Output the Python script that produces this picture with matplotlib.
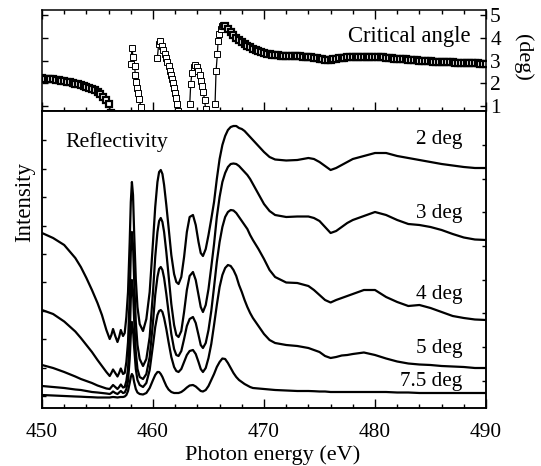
import numpy as np
import matplotlib as mpl
mpl.use('Agg')
import matplotlib.pyplot as plt
from matplotlib.ticker import MultipleLocator, FixedLocator

plt.rcParams['font.family'] = ['Liberation Serif', 'DejaVu Serif']

# Reflectivity spectra (arbitrary units) on a shared energy grid (eV)
energy = [450, 451, 452, 453, 453.5, 454, 454.5, 455, 455.4, 455.8,
          456.1, 456.25, 456.4, 456.6, 456.8, 456.95, 457.1, 457.3, 457.45, 457.6,
          457.75, 457.9, 458.0, 458.1, 458.2, 458.3, 458.45, 458.6, 458.8, 459.1,
          459.4, 459.7, 460.0, 460.2, 460.4, 460.55, 460.7, 460.85, 461.0, 461.2,
          461.4, 461.65, 461.9, 462.1, 462.3, 462.55, 462.8, 463.05, 463.3, 463.6,
          463.85, 464.1, 464.3, 464.5, 464.75, 465.0, 465.25, 465.5, 465.75, 466.0,
          466.25, 466.5, 466.75, 467.0, 467.25, 467.5, 467.75, 468.0, 468.25, 468.5,
          468.75, 469.0, 469.5, 470.0, 470.5, 471, 472, 473, 474, 474.5,
          475, 475.5, 476, 476.5, 477, 477.5, 478, 479, 480, 481,
          482, 483, 484, 485, 486, 487, 488, 489, 490]
refl_2deg = [174, 169, 162, 149, 140, 129, 117, 104, 92, 77,
             68, 72, 78, 71, 65, 70, 77, 71, 74, 90,
             115, 165, 205, 225, 212, 175, 128, 100, 83, 76,
             88, 115, 165, 200, 225, 235, 237, 233, 222, 202,
             180, 152, 133, 125, 123, 130, 150, 175, 190, 192,
             182, 165, 154, 151, 158, 172, 188, 205, 228, 248,
             262, 271, 277, 280, 281, 281, 279, 278, 276, 273,
             270, 267, 261, 255, 250, 247.5, 246.5, 247, 249, 248,
             245, 241, 237, 239, 242, 245, 248, 251, 254, 254,
             251, 249, 247, 245, 243, 241.5, 240, 239, 239]
refl_3deg = [97, 93, 85.5, 75.5, 69, 62, 55, 47, 41, 35,
             31, 34, 37.5, 34, 30.5, 34, 38.5, 33, 34, 45,
             65, 110, 155, 175, 162, 128, 85, 62, 48, 41,
             48, 70, 115, 150, 175, 186, 189, 185, 175, 155,
             132, 103, 82, 72, 70, 76, 95, 117, 131, 135,
             127, 112, 100, 95, 102, 118, 140, 163, 190, 210,
             225, 234, 240, 243, 243.5, 243, 241, 238, 235, 232,
             228, 223, 213, 203, 196, 192, 190, 190.5, 190.5, 189,
             186, 180, 174, 176, 180, 184, 187, 191, 195, 192,
             187, 183, 182, 180, 177, 173, 169.5, 167.5, 167]
refl_4deg = [42, 39, 35, 30.5, 28, 26, 24, 21.5, 20, 18.5,
             18, 20, 22, 20, 18, 20, 22.5, 19.5, 20, 26,
             38, 70, 108, 127, 116, 88, 55, 38, 30, 28,
             33, 50, 85, 112, 130, 138, 140, 137, 129, 113,
             95, 73, 58, 52, 51, 56, 68, 81, 88, 90,
             84, 72, 62, 59, 64, 77, 96, 120, 145, 165,
             180, 190, 195, 197, 196.5, 194, 190, 186, 182, 178,
             172, 167, 158, 148, 137, 130, 124.5, 124, 121, 117,
             112, 107, 104.5, 107, 109, 111, 113, 117, 117, 110,
             105, 101, 102, 99, 95, 91, 89, 87.5, 87]
refl_5deg = [21, 20, 19, 17.5, 17, 16, 15, 14.5, 14, 13.5,
             13, 14, 15.5, 14, 13, 14.5, 16, 14, 14.5, 18,
             26, 48, 72, 85, 77, 60, 38, 27, 22, 20,
             24, 37, 62, 80, 92, 96, 97, 95, 89, 78,
             65, 50, 40, 36, 35, 38, 45, 52, 56, 57,
             53, 45, 38, 35, 39, 49, 63, 82, 102, 120,
             132, 139, 142, 141, 137, 131, 122, 115, 107, 100,
             94, 89, 81, 73, 67, 64, 62, 61, 59, 57,
             55, 51, 49, 50, 51.5, 52, 53, 54.5, 52, 48.5,
             45.5, 43.5, 42.5, 42, 41, 40.5, 40, 39, 39]
refl_75deg = [12, 11.5, 11, 10.5, 10.3, 10, 9.8, 9.5, 9.5, 9.5,
              9.5, 9.8, 10, 9.8, 9.5, 9.8, 10, 10, 10.5, 12,
              16, 24, 30, 33, 31, 25, 18, 14.5, 13, 12.5,
              14, 19, 27, 32, 35, 35, 33, 30, 26, 21,
              17.5, 15, 14, 14, 14, 15, 17, 19.5, 21.5, 22,
              20.5, 18, 16, 15.5, 17, 21, 27, 33, 40, 45,
              48.5, 48, 44, 39, 34, 30, 27, 25, 23, 21.5,
              20, 19, 18.5, 18, 17.5, 17, 16.5, 16, 16, 15.8,
              15.5, 15.5, 15, 15, 15, 15, 15, 15, 15, 15,
              14.5, 14.5, 14, 14, 14, 14, 14, 14, 14]
curve_labels = ['2 deg', '3 deg', '4 deg', '5 deg', '7.5 deg']

# Critical angle (deg); separate pieces where it drops out of range
ca_low_energy = np.arange(450.0, 456.01, 0.25).tolist() + [456.2]
ca_low_angle = [2.22, 2.21, 2.20, 2.19, 2.18, 2.16, 2.14, 2.12,
                2.10, 2.07, 2.05, 2.02, 1.99, 1.96, 1.93, 1.89,
                1.85, 1.80, 1.75, 1.69, 1.62, 1.53, 1.42, 1.28,
                1.10, 0.72]
ca_c1_energy = [458.0, 458.1, 458.2, 458.35, 458.4, 458.5, 458.6, 458.65, 458.7, 458.95]
ca_c1_angle = [2.85, 3.55, 3.18, 2.75, 2.38, 2.07, 1.80, 1.58, 1.32, 0.97]
ca_c2_energy = [460.39, 460.51, 460.66, 460.8, 460.93, 461.05, 461.17, 461.29, 461.41,
                461.5, 461.6, 461.68, 461.77, 461.86, 461.95, 462.07, 462.19, 462.25]
ca_c2_angle = [3.11, 3.72, 3.84, 3.66, 3.48, 3.29, 3.11, 2.94, 2.75,
               2.56, 2.38, 2.21, 2.02, 1.80, 1.58, 1.37, 1.10, 0.81]
ca_c3_energy = [463.31, 463.4, 463.51, 463.66, 463.81, 463.96, 464.08, 464.2, 464.32,
                464.41, 464.53, 464.65, 464.74]
ca_c3_angle = [1.10, 1.98, 2.46, 2.70, 2.79, 2.73, 2.56, 2.35, 2.12,
               1.87, 1.63, 1.26, 0.86]
ca_c4_energy = [465.59, 465.68, 465.8, 465.86, 465.97, 466.13, 466.25, 466.35, 466.42]
ca_c4_angle = [1.10, 2.53, 3.29, 3.84, 4.16, 4.38, 4.50, 4.55, 4.53]
ca_high_energy = np.linspace(466.5, 490.0, 95).tolist()
ca_high_angle = [4.50, 4.38, 4.25, 4.13, 4.01, 3.91, 3.82, 3.74,
                 3.66, 3.59, 3.52, 3.46, 3.41, 3.36, 3.32, 3.29,
                 3.27, 3.25, 3.24, 3.23, 3.22, 3.22, 3.22, 3.21,
                 3.21, 3.20, 3.20, 3.19, 3.18, 3.17, 3.16, 3.14,
                 3.12, 3.10, 3.07, 3.05, 3.03, 3.02, 3.03, 3.05,
                 3.08, 3.10, 3.12, 3.13, 3.14, 3.15, 3.15, 3.16,
                 3.16, 3.17, 3.17, 3.17, 3.17, 3.17, 3.17, 3.16,
                 3.15, 3.14, 3.12, 3.11, 3.10, 3.09, 3.08, 3.07,
                 3.06, 3.05, 3.04, 3.03, 3.02, 3.01, 3.00, 2.99,
                 2.98, 2.97, 2.97, 2.96, 2.95, 2.95, 2.94, 2.93,
                 2.93, 2.92, 2.92, 2.91, 2.91, 2.90, 2.90, 2.89,
                 2.89, 2.88, 2.88, 2.88, 2.87, 2.87, 2.87]

W, H = 541, 466
fig = plt.figure(figsize=(W / 100, H / 100), dpi=100)
x0, x1 = 42 / W, 486 / W
ax_top = fig.add_axes([x0, 1 - 111 / H, x1 - x0, 101 / H])
ax = fig.add_axes([x0, 1 - 407.5 / H, x1 - x0, 296.5 / H])

# critical angle panel: dense runs look like a dark band in the original
sq = dict(color='black', lw=0.9, marker='s', mfc='white', mec='black')
ax_top.plot(ca_low_energy, ca_low_angle, ms=4.6, mew=1.6, **sq)
for e, a in [(ca_c1_energy, ca_c1_angle), (ca_c2_energy, ca_c2_angle),
             (ca_c3_energy, ca_c3_angle),
             (ca_c4_energy + ca_high_energy[:1], ca_c4_angle + ca_high_angle[:1])]:
    ax_top.plot(e, a, ms=4.4, mew=0.7, **sq)
ax_top.plot(ca_high_energy, ca_high_angle, ms=4.6, mew=1.6, **sq)

ax_top.set_xlim(450, 490)
ax_top.set_ylim(0.79, 5.22)
ax_top.xaxis.set_major_locator(MultipleLocator(10))
ax_top.xaxis.set_minor_locator(MultipleLocator(2))
ax_top.yaxis.set_major_locator(MultipleLocator(1))
ax_top.tick_params(axis='x', which='both', direction='in', top=True, bottom=True,
                   labelbottom=False)
ax_top.tick_params(axis='x', which='major', length=6.5, width=1)
ax_top.tick_params(axis='x', which='minor', length=3, width=1)
ax_top.tick_params(axis='y', direction='in', left=True, right=True, labelleft=False,
                   labelright=True, length=4.3, width=1, pad=3, labelsize=15.4)
ax_top.text(488.6, 4.06, 'Critical angle', ha='right', va='center', fontsize=16.3)
fig.text(523 / W, 1 - 57.5 / H, '(deg)', rotation=270, ha='center', va='center',
         fontsize=16)

# reflectivity panel
for r in [refl_2deg, refl_3deg, refl_4deg, refl_5deg, refl_75deg]:
    ax.plot(energy, r, color='black', lw=1.6, solid_joinstyle='round')
ax.set_xlim(450, 490)
ax.set_ylim(-0.5, 296)
ax.xaxis.set_major_locator(MultipleLocator(10))
ax.xaxis.set_minor_locator(MultipleLocator(2))
ax.tick_params(axis='x', which='both', direction='in', top=False, labelsize=15.4, pad=11)
ax.tick_params(axis='x', which='major', length=6.5, width=1)
ax.tick_params(axis='x', which='minor', length=3, width=1)
ax.yaxis.set_major_locator(FixedLocator(np.arange(11, 290, 28.4)))
ax.tick_params(axis='y', direction='in', left=True, right=False, labelleft=False,
               length=2.6, width=1)
ax_r = ax.twinx()
ax_r.set_ylim(ax.get_ylim())
ax_r.yaxis.set_major_locator(FixedLocator(np.arange(26.3, 290, 33.67)))
ax_r.tick_params(axis='y', direction='in', right=True, labelright=False,
                 length=2.6, width=1)

label_y = [267, 193, 112, 58.7, 25.3]
for lab, y in zip(curve_labels, label_y):
    ax.text(487.85, y, lab, ha='right', va='center', fontsize=15.2)
ax.text(452.1, 265, 'Reflectivity', ha='left', va='center', fontsize=15.7)

fig.text(25 / W, 1 - 201.7 / H, 'Intensity', rotation=90, ha='center', va='center',
         fontsize=16.5)
fig.text(272.6 / W, 1 - 455 / H, 'Photon energy (eV)', ha='center', va='center',
         fontsize=16)

for a in (ax_top, ax, ax_r):
    for s in a.spines.values():
        s.set_linewidth(1.1)

fig.savefig('out.png', dpi=100)
